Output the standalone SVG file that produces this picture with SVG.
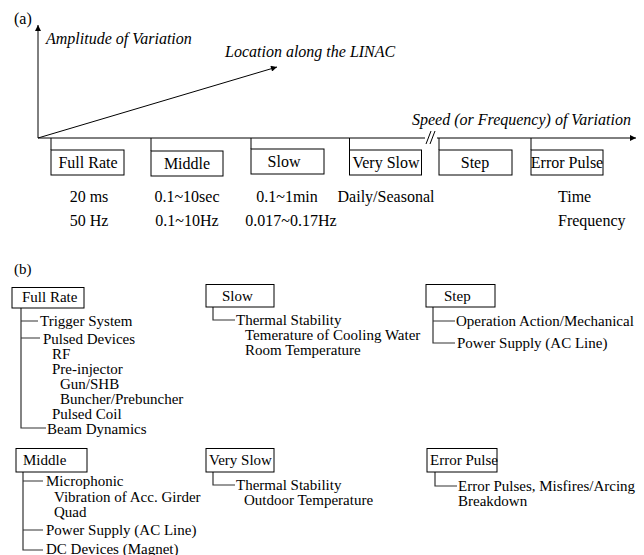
<svg xmlns="http://www.w3.org/2000/svg" width="644" height="555" viewBox="0 0 644 555">
<style>
text{font-family:"Liberation Serif","Times New Roman",serif;fill:#000}
.a{font-size:16px}
.b{font-size:15px}
.i{font-style:italic}
.m{text-anchor:middle}
.box{fill:#fff;stroke:#000;stroke-width:1}
.ln{fill:none;stroke:#000;stroke-width:1}
.tr{fill:none;stroke:#333;stroke-width:1.2}
</style>
<defs>
<marker id="ah" viewBox="0 0 10 10" refX="10" refY="5" markerWidth="10" markerHeight="6" markerUnits="userSpaceOnUse" orient="auto">
<path d="M0,0 L10,5 L0,10 z" fill="#000"/>
</marker>
</defs>
<rect width="644" height="555" fill="#fff"/>

<text class="a" x="14" y="24">(a)</text>
<g id="connectors">
<line class="ln" x1="38" y1="138" x2="38" y2="25" marker-end="url(#ah)"/>
<line class="ln" x1="38" y1="138" x2="277" y2="67" marker-end="url(#ah)"/>
<line class="ln" x1="38" y1="138" x2="425" y2="138"/>
<line class="ln" x1="437" y1="138" x2="636" y2="138" marker-end="url(#ah)"/>
<line class="ln" x1="426" y1="144" x2="431" y2="131"/>
<line class="ln" x1="430" y1="144" x2="435" y2="131"/>
<line class="ln" x1="51" y1="138" x2="51" y2="150"/>
<line class="ln" x1="151" y1="138" x2="151" y2="151"/>
<line class="ln" x1="251" y1="138" x2="251" y2="149"/>
<line class="ln" x1="349.5" y1="138" x2="349.5" y2="150"/>
<line class="ln" x1="439" y1="138" x2="439" y2="150"/>
<line class="ln" x1="531" y1="138" x2="531" y2="150"/>

<path class="tr" d="M21,308 V428 H46 M21,321 H38 M21,338 H40"/>
<path class="tr" d="M213,307 V320 H235"/>
<path class="tr" d="M433,307 V343 H455 M433,321 H455"/>
<path class="tr" d="M23,472 V550 H43 M23,481 H43 M23,530 H43"/>
<path class="tr" d="M213,472 V485 H235"/>
<path class="tr" d="M435,472 V486 H457"/>
</g>

<text class="a i" x="46" y="44">Amplitude of Variation</text>
<text class="a i" x="225" y="57">Location along the LINAC</text>
<text class="a i" x="412" y="125">Speed (or Frequency) of Variation</text>

<g id="a-fullrate">
<rect class="box" x="51" y="150" width="73" height="25"/>
<text class="a m" x="88" y="168">Full Rate</text>
<text class="a m" x="89" y="202">20 ms</text>
<text class="a m" x="89" y="226">50 Hz</text>
</g>
<g id="a-middle">
<rect class="box" x="151" y="151" width="72" height="25"/>
<text class="a m" x="187" y="169">Middle</text>
<text class="a m" x="187" y="202">0.1~10sec</text>
<text class="a m" x="187" y="226">0.1~10Hz</text>
</g>
<g id="a-slow">
<rect class="box" x="251" y="149" width="73" height="25"/>
<text class="a m" x="284" y="167">Slow</text>
<text class="a m" x="287" y="202">0.1~1min</text>
<text class="a m" x="291" y="226">0.017~0.17Hz</text>
</g>
<g id="a-veryslow">
<rect class="box" x="349.5" y="150" width="72" height="25"/>
<text class="a m" x="386" y="168">Very Slow</text>
<text class="a m" x="386" y="202">Daily/Seasonal</text>
</g>
<g id="a-step">
<rect class="box" x="439" y="150" width="73" height="25"/>
<text class="a m" x="475" y="168">Step</text>
</g>
<g id="a-errorpulse">
<rect class="box" x="531" y="150" width="72" height="25"/>
<text class="a m" x="567" y="168">Error Pulse</text>
<text class="a" x="558" y="202">Time</text>
<text class="a" x="558" y="226">Frequency</text>
</g>

<text class="b" x="14" y="274">(b)</text>

<g id="b-fullrate">
<rect class="box" x="12" y="287.5" width="72" height="20.5"/>
<text class="b" x="22" y="302">Full Rate</text>
<text class="b" x="40" y="326">Trigger System</text>
<text class="b" x="43" y="344">Pulsed Devices</text>
<text class="b" x="52" y="359">RF</text>
<text class="b" x="52" y="374">Pre-injector</text>
<text class="b" x="60" y="389">Gun/SHB</text>
<text class="b" x="60" y="404">Buncher/Prebuncher</text>
<text class="b" x="52" y="419">Pulsed Coil</text>
<text class="b" x="47" y="434">Beam Dynamics</text>
</g>
<g id="b-slow">
<rect class="box" x="206" y="284.5" width="68" height="22.5"/>
<text class="b" x="222" y="301">Slow</text>
<text class="b" x="236" y="325">Thermal Stability</text>
<text class="b" x="245" y="340">Temerature of Cooling Water</text>
<text class="b" x="245" y="355">Room Temperature</text>
</g>
<g id="b-step">
<rect class="box" x="426" y="284.5" width="69" height="22.5"/>
<text class="b" x="444" y="301">Step</text>
<text class="b" x="456" y="326">Operation Action/Mechanical</text>
<text class="b" x="457" y="348">Power Supply (AC Line)</text>
</g>
<g id="b-middle">
<rect class="box" x="16" y="448.5" width="71" height="23.5"/>
<text class="b" x="23" y="465">Middle</text>
<text class="b" x="46" y="486">Microphonic</text>
<text class="b" x="54" y="502">Vibration of Acc. Girder</text>
<text class="b" x="54" y="517">Quad</text>
<text class="b" x="46" y="535">Power Supply (AC Line)</text>
<text class="b" x="46" y="554">DC Devices (Magnet)</text>
</g>
<g id="b-veryslow">
<rect class="box" x="206" y="448.5" width="68" height="23.5"/>
<text class="b" x="209" y="465">Very Slow</text>
<text class="b" x="236" y="490">Thermal Stability</text>
<text class="b" x="244" y="505">Outdoor Temperature</text>
</g>
<g id="b-errorpulse">
<rect class="box" x="427" y="448.5" width="70" height="23.5"/>
<text class="b" x="430" y="465">Error Pulse</text>
<text class="b" x="458" y="491">Error Pulses, Misfires/Arcing</text>
<text class="b" x="458" y="506">Breakdown</text>
</g>
</svg>
